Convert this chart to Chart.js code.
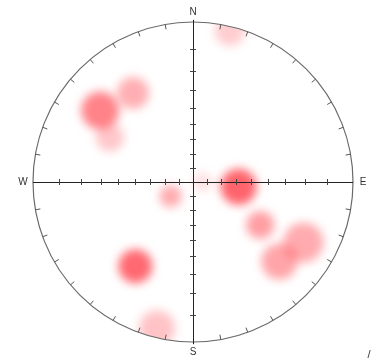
<!DOCTYPE html>
<html>
<head>
<meta charset="utf-8">
<script src="https://cdn.jsdelivr.net/npm/chart.js@4.4.1/dist/chart.umd.min.js"></script>
<style>
  html, body { margin: 0; background: #fff; }
  #wrap { width: 374px; height: 361px; }
</style>
</head>
<body>
<div id="wrap"><canvas id="chart" width="374" height="361"></canvas></div>
<script>
// ----- data (normalised stereonet coords, -1..1) -----
const spotX     = [-0.58, -0.375, -0.52, 0.23, 0.285, 0.06, -0.14, 0.42, 0.69, 0.54, -0.36, -0.225];
const spotY     = [ 0.45,  0.56,   0.28, 0.95, -0.03, 0.0, -0.09, -0.27, -0.38, -0.5, -0.53, -0.92];
const spotSize  = [19, 16, 14, 15, 18, 10, 11, 14, 20, 18, 17, 18];
const spotAlpha = [0.62, 0.4, 0.28, 0.25, 0.78, 0.15, 0.42, 0.48, 0.42, 0.45, 0.75, 0.3];
const dipTicks  = [10, 20, 30, 40, 50, 60, 70, 80];   // crosshair ticks (stereographic)
const rimStep   = 10;                                  // degrees between rim ticks
const compass   = [['N', 0, 1], ['E', 1, 0], ['S', 0, -1], ['W', -1, 0]];

const $ = (id) => document.getElementById(id);

// ----- frame plugin: primitive circle, crosshair, ticks, labels -----
const stereo = {
  id: 'stereo',
  beforeDatasetsDraw(ch) {
    const g = ch.ctx, sx = ch.scales.x, sy = ch.scales.y;
    const cx = sx.getPixelForValue(0), cy = sy.getPixelForValue(0);
    const R = sx.getPixelForValue(1) - cx;
    g.save();
    g.beginPath(); g.arc(cx, cy, R, 0, Math.PI * 2); g.clip();
    g.filter = 'blur(5px)';
  },
  afterDatasetsDraw(ch) {
    const g = ch.ctx, sx = ch.scales.x, sy = ch.scales.y;
    g.restore();
    const cx = sx.getPixelForValue(0), cy = sy.getPixelForValue(0);
    const R = sx.getPixelForValue(1) - cx;
    g.save();
    // primitive circle
    g.strokeStyle = '#6a6a6a'; g.lineWidth = 1.2;
    g.beginPath(); g.arc(cx, cy, R, 0, Math.PI * 2); g.stroke();
    // rim ticks (inward)
    g.strokeStyle = '#555'; g.lineWidth = 1;
    for (let a = rimStep; a < 360; a += rimStep) {
      if (a % 90 === 0) continue;
      const t = a * Math.PI / 180;
      const dx = Math.sin(t), dy = -Math.cos(t);
      g.beginPath();
      g.moveTo(cx + dx * R, cy + dy * R);
      g.lineTo(cx + dx * (R - 5), cy + dy * (R - 5));
      g.stroke();
    }
    // crosshair
    g.strokeStyle = '#222'; g.lineWidth = 1;
    g.beginPath();
    g.moveTo(sx.getPixelForValue(-1), cy + 0.5); g.lineTo(sx.getPixelForValue(1), cy + 0.5);
    g.moveTo(cx + 0.5, sy.getPixelForValue(1.02)); g.lineTo(cx + 0.5, sy.getPixelForValue(-1.02));
    g.stroke();
    g.strokeStyle = '#444';
    g.beginPath();
    dipTicks.forEach(d => {
      const v = Math.tan((90 - d) * Math.PI / 360);
      [-v, v].forEach(u => {
        const px = Math.round(sx.getPixelForValue(u)) + 0.5;
        g.moveTo(px, cy - 3); g.lineTo(px, cy + 3);
        const py = Math.round(sy.getPixelForValue(u)) + 0.5;
        g.moveTo(cx - 3, py); g.lineTo(cx + 3, py);
      });
    });
    g.stroke();
    // compass labels
    g.fillStyle = '#333'; g.font = '10px "Liberation Sans", Arial, sans-serif';
    g.textAlign = 'center'; g.textBaseline = 'middle';
    compass.forEach(([txt, ux, uy]) => {
      g.fillText(txt, cx + ux * (R + 10), cy - uy * (R + 10) + 0.5);
    });
    g.font = '11px "Liberation Sans", Arial, sans-serif';
    g.fillText('/', 369, 355);
    g.restore();
  }
};

new Chart($('chart').getContext('2d'), {
  type: 'bubble',
  data: {
    datasets: [{
      data: spotX.map((x, i) => ({ x, y: spotY[i], r: spotSize[i] })),
      backgroundColor: spotAlpha.map(a => `rgba(255,55,65,${a})`),
      borderWidth: 0,
      hoverRadius: 0
    }]
  },
  options: {
    responsive: false, animation: false, devicePixelRatio: 1,
    layout: { padding: { left: 33, right: 21, top: 23, bottom: 18 } },
    scales: {
      x: { type: 'linear', min: -1, max: 1, display: false },
      y: { type: 'linear', min: -1, max: 1, display: false }
    },
    plugins: { legend: { display: false }, tooltip: { enabled: false } }
  },
  plugins: [stereo]
});
</script>
</body>
</html>
